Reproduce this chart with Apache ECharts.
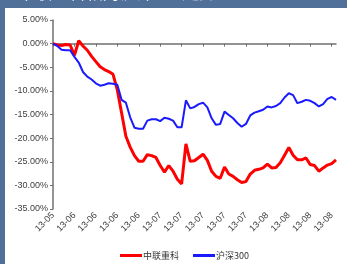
<!DOCTYPE html>
<html>
<head>
<meta charset="utf-8">
<script src="https://cdn.jsdelivr.net/npm/echarts@6/dist/echarts.min.js"></script>
<style>
  html, body { margin: 0; padding: 0; background: #fff; }
  #chart { width: 347px; height: 264px; }
</style>
</head>
<body>
<div id="chart"></div>
<script>
// month labels, one per tick (every 5 trading days)
let tickLabels = ['13-05', '13-06', '13-06', '13-06', '13-06', '13-07', '13-07',
  '13-07', '13-07', '13-07', '13-08', '13-08', '13-08', '13-08'];

let zlzk = [0, -0.3, -0.4, -0.2, -0.3, -2.5, 0.6, -0.5, -1.4, -2.7,
  -3.8, -4.9, -5.5, -5.9, -6.5, -9.8, -14.7, -19.6, -21.9, -23.7,
  -24.9, -24.9, -23.5, -23.7, -24.1, -25.8, -27.2, -25.8, -27.0, -28.7,
  -29.7, -21.2, -24.9, -24.8, -24.1, -23.4, -24.7, -27.0, -28.1, -28.5,
  -26.1, -27.6, -28.1, -28.8, -29.4, -29.2, -27.6, -26.8, -26.6, -26.3,
  -25.5, -26.3, -26.2, -25.2, -23.6, -22.0, -23.6, -24.6, -24.6, -24.2,
  -25.6, -25.8, -27.0, -26.3, -25.7, -25.4, -24.6];

let hs300 = [0, -0.5, -1.3, -1.4, -1.4, -2.8, -4.0, -6.0, -7.0, -7.6,
  -8.4, -8.9, -8.7, -8.4, -8.5, -8.7, -11.9, -12.5, -15.6, -17.8,
  -18.0, -18.0, -16.3, -16.0, -16.0, -16.4, -15.7, -15.9, -16.3, -17.7,
  -17.7, -12.0, -13.7, -13.4, -12.8, -12.5, -13.5, -15.8, -17.2, -17.0,
  -14.4, -15.1, -15.8, -16.8, -17.6, -17.0, -15.2, -14.6, -14.3, -14.0,
  -13.3, -13.5, -13.2, -12.6, -11.4, -10.5, -10.9, -12.6, -12.3, -11.9,
  -12.1, -12.6, -13.3, -12.8, -11.7, -11.3, -11.9];

// category axis: tick label on every 5th point
let categories = tickLabels.flatMap(t => [t, '', '', '', '']).slice(0, zlzk.length);

var chartDom = document.getElementById('chart');
var chart = echarts.init(chartDom);

var labelFont = { fontFamily: 'Liberation Sans', fontSize: 9, color: '#404040' };

option = {
  animation: false,
  backgroundColor: '#fff',
  graphic: [
    { type: 'rect', left: 0, top: 0, shape: { width: 347, height: 8 }, style: { fill: '#50709a' }, z: 0 },
    { type: 'rect', left: 0, top: 0, shape: { width: 5, height: 264 }, style: { fill: '#50709a' }, z: 0 },
    {
      type: 'text', left: 18, top: -16, z: 1,
      style: { text: '中联重科相对沪深300走势', fill: '#fff', font: '17px "Noto Sans CJK SC"' }
    },
    // white strip so the cut-off title stays inside the band
    { type: 'rect', left: 5, top: 8, shape: { width: 342, height: 5 }, style: { fill: '#fff' }, z: 2 }
  ],
  grid: { left: 53, right: 11, top: 20, bottom: 55 },
  legend: {
    left: 115,
    top: 246,
    itemWidth: 22,
    itemHeight: 3,
    itemGap: 14,
    icon: 'rect',
    textStyle: { fontFamily: 'Noto Sans CJK SC', fontSize: 9, color: '#333', padding: [0, 0, 0, -4] },
    data: ['中联重科', '沪深300']
  },
  xAxis: {
    type: 'category',
    data: categories,
    boundaryGap: false,
    axisLine: { lineStyle: { color: '#707070', width: 1.5 } },
    axisTick: { interval: 4, length: 3, lineStyle: { color: '#707070' } },
    axisLabel: Object.assign({ interval: 4, rotate: 45, margin: 5 }, labelFont)
  },
  yAxis: {
    type: 'value',
    min: -35,
    max: 5,
    interval: 5,
    splitLine: { show: false },
    axisLine: { show: true, lineStyle: { color: '#707070', width: 1.5 } },
    axisTick: { show: true, length: 3, lineStyle: { color: '#707070' } },
    axisLabel: Object.assign({
      margin: 5,
      formatter: v => v.toFixed(2) + '%'
    }, labelFont)
  },
  series: [
    {
      name: '中联重科',
      type: 'line',
      data: zlzk,
      symbol: 'none',
      color: '#ff0000',
      lineStyle: { width: 3 }
    },
    {
      name: '沪深300',
      type: 'line',
      data: hs300,
      symbol: 'none',
      color: '#1a1aff',
      lineStyle: { width: 2 }
    }
  ]
};

chart.setOption(option);
</script>
</body>
</html>
